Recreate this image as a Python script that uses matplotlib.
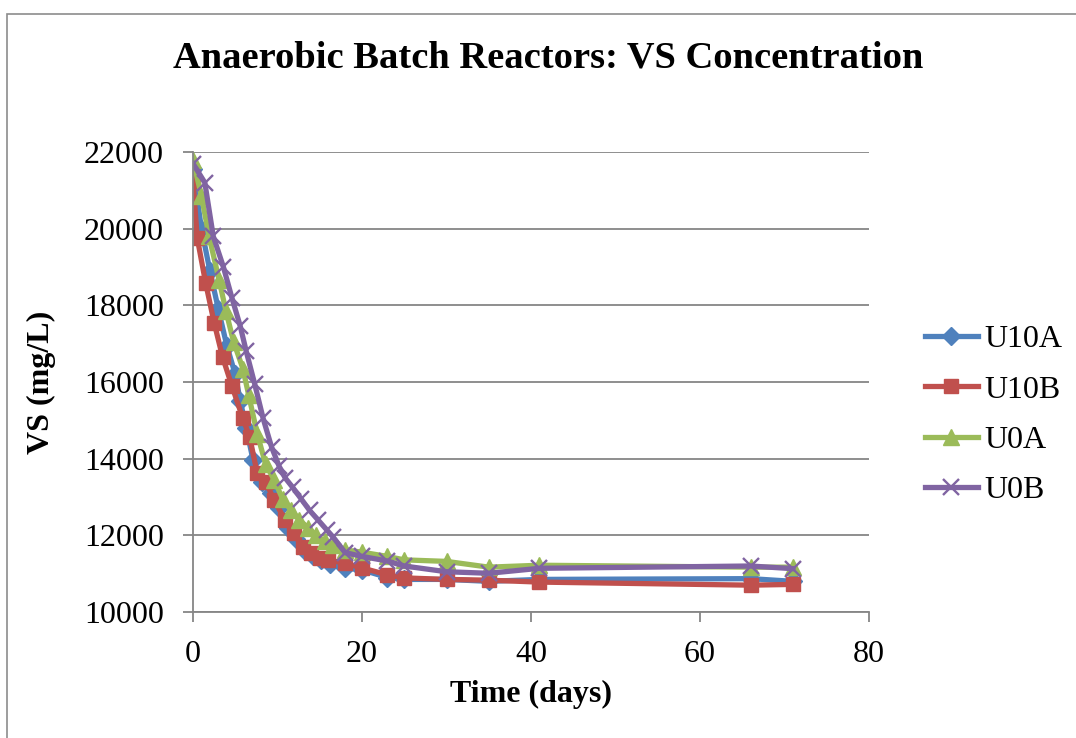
import matplotlib
matplotlib.use('Agg')
import matplotlib.pyplot as plt
from matplotlib.patches import Rectangle

plt.rcParams['font.family'] = ['Liberation Serif', 'DejaVu Serif']

# sampling times (days) and VS (mg/L)
t_u10a = [0, 1, 2, 3, 4, 5, 5.6, 6.3, 7.1, 8.2, 9.2, 10.2, 11.2, 12.2, 13.2, 14.2,
          15.2, 16.2, 18, 20, 23, 25, 30, 35, 41, 66, 71]
vs_u10a = [21550, 20000, 18900, 17900, 16950, 16200, 15500, 14800, 13970, 13400,
           13100, 12700, 12200, 11900, 11600, 11450, 11350, 11250, 11150, 11100,
           10900, 10850, 10850, 10800, 10850, 10870, 10800]

t_u10b = [0, 0.5, 1.5, 2.5, 3.5, 4.6, 5.9, 6.7, 7.6, 8.6, 9.6, 10.9, 11.9, 13, 14,
          15, 16, 18, 20, 23, 25, 30, 35, 41, 66, 71]
vs_u10b = [21250, 19760, 18580, 17550, 16650, 15900, 15050, 14570, 13620, 13400,
           12920, 12400, 12060, 11700, 11540, 11400, 11360, 11270, 11150, 10970,
           10890, 10850, 10830, 10780, 10700, 10720]

t_u0a = [0, 1, 1.9, 3.1, 3.9, 4.8, 5.9, 6.6, 7.6, 8.6, 9.6, 10.6, 11.6, 12.6, 13.6,
         14.6, 15.6, 16.6, 18, 20, 23, 25, 30, 35, 41, 66, 71]
vs_u0a = [21800, 20850, 19800, 18650, 17850, 17050, 16350, 15650, 14650, 13850,
          13450, 12950, 12650, 12400, 12200, 12000, 11850, 11750, 11620, 11560,
          11450, 11360, 11320, 11170, 11220, 11170, 11170]

t_u0b = [0, 1.4, 2.4, 3.6, 4.6, 5.6, 6.3, 7.3, 8.3, 9.3, 10.2, 10.9, 11.8, 12.8,
         13.8, 14.8, 15.8, 16.6, 18, 20, 23, 25, 30, 35, 41, 66, 71]
vs_u0b = [21700, 21200, 19800, 19000, 18200, 17450, 16800, 15950, 15050, 14300,
          13800, 13500, 13250, 12950, 12650, 12400, 12150, 11950, 11550, 11450,
          11330, 11200, 11050, 11010, 11140, 11200, 11130]

x_ticks = [0, 20, 40, 60, 80]
y_ticks = [10000, 12000, 14000, 16000, 18000, 20000, 22000]

fig = plt.figure(figsize=(10.76, 7.38), dpi=100)
ax = fig.add_axes([193 / 1076, 1 - 612 / 738, 676 / 1076, 460 / 738])

# outer chart frame (only left and top edges are visible in the picture)
fig.patches.append(Rectangle((7 / 1076, -0.1), 1.2, 1 - 14 / 738 + 0.1,
                             transform=fig.transFigure, fill=False,
                             edgecolor='#8c8c8c', linewidth=1.2))

lw = 3.8
ax.plot(t_u10a, vs_u10a, color='#4F81BD', lw=lw, marker='D', ms=9, label='U10A')
ax.plot(t_u10b, vs_u10b, color='#C0504D', lw=lw, marker='s', ms=10.5, label='U10B')
ax.plot(t_u0a, vs_u0a, color='#9BBB59', lw=lw, marker='^', ms=11, label='U0A')
ax.plot(t_u0b, vs_u0b, color='#8064A2', lw=lw, marker='x', ms=11, mew=1.7, label='U0B')

ax.set_xlim(0, 80)
ax.set_ylim(10000, 22000)
ax.set_xticks(x_ticks)
ax.set_yticks(y_ticks)
ax.grid(axis='y', color='#868686', linewidth=1.3)
ax.set_axisbelow(True)
for s in ['top', 'right']:
    ax.spines[s].set_visible(False)
for s in ['left', 'bottom']:
    ax.spines[s].set_color('#868686')
    ax.spines[s].set_linewidth(1.3)
ax.tick_params(axis='both', colors='#868686', length=7, width=1.3, labelsize=23,
               labelcolor='black')
ax.tick_params(axis='y', pad=14)
ax.tick_params(axis='x', pad=13)

ax.set_xlabel('Time (days)', fontsize=23, fontweight='bold', labelpad=8)
ax.set_ylabel('VS (mg/L)', fontsize=23, fontweight='bold', labelpad=20)

fig.text(548 / 1076, 1 - 58 / 738, 'Anaerobic Batch Reactors: VS Concentration',
         ha='center', va='center', fontsize=27.7, fontweight='bold')

fig.legend(loc='center left', bbox_to_anchor=(925 / 1076, 1 - 415 / 738),
           frameon=False, fontsize=23, borderpad=0, borderaxespad=0,
           handlelength=1.65, handletextpad=0.2, labelspacing=0.65)

fig.savefig('out.png', dpi=100)
